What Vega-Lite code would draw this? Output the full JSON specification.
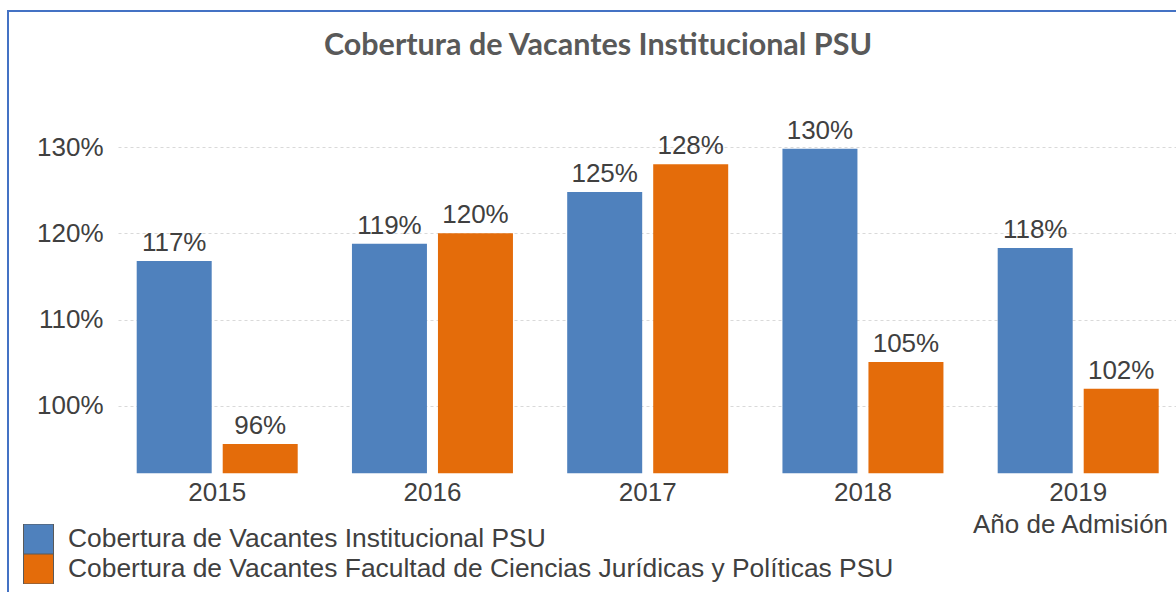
{
  "$schema": "https://vega.github.io/schema/vega-lite/v6.json",
  "width": 1180,
  "height": 600,
  "autosize": {"type": "none"},
  "padding": {"left": 8, "top": 11, "right": 0, "bottom": 0},
  "background": "white",
  "config": {
    "view": {"stroke": "#4472C4", "strokeWidth": 2},
    "font": "Liberation Sans"
  },
  "title": {
    "text": "Cobertura de Vacantes Institucional PSU",
    "font": "Lato",
    "fontSize": 30.5,
    "fontWeight": "bold",
    "color": "#595959",
    "anchor": "middle",
    "frame": "group",
    "offset": -50
  },
  "data": {
    "values": [
      {"year": "2015", "serie": "Cobertura de Vacantes Institucional PSU", "value": 1.168},
      {"year": "2015", "serie": "Cobertura de Vacantes Facultad de Ciencias Jurídicas y Políticas PSU", "value": 0.956},
      {"year": "2016", "serie": "Cobertura de Vacantes Institucional PSU", "value": 1.188},
      {"year": "2016", "serie": "Cobertura de Vacantes Facultad de Ciencias Jurídicas y Políticas PSU", "value": 1.2},
      {"year": "2017", "serie": "Cobertura de Vacantes Institucional PSU", "value": 1.248},
      {"year": "2017", "serie": "Cobertura de Vacantes Facultad de Ciencias Jurídicas y Políticas PSU", "value": 1.28},
      {"year": "2018", "serie": "Cobertura de Vacantes Institucional PSU", "value": 1.298},
      {"year": "2018", "serie": "Cobertura de Vacantes Facultad de Ciencias Jurídicas y Políticas PSU", "value": 1.051},
      {"year": "2019", "serie": "Cobertura de Vacantes Institucional PSU", "value": 1.183},
      {"year": "2019", "serie": "Cobertura de Vacantes Facultad de Ciencias Jurídicas y Políticas PSU", "value": 1.02}
    ]
  },
  "encoding": {
    "x": {
      "field": "year",
      "type": "nominal",
      "scale": {"range": [110, 1169.4], "paddingInner": 0.252, "paddingOuter": 0.0869},
      "axis": {
        "orient": "bottom",
        "offset": -138,
        "domain": false,
        "ticks": false,
        "tickSize": 0,
        "grid": false,
        "labelAngle": 0,
        "labelPadding": 6,
        "labelFontSize": 26,
        "labelColor": "#404040",
        "title": "Año de Admisión",
        "titleFontSize": 26,
        "titleFontWeight": "normal",
        "titleColor": "#404040",
        "titleX": 1062,
        "titleY": 59,
        "titleBaseline": "alphabetic",
        "titleAlign": "center"
      }
    },
    "xOffset": {
      "field": "serie",
      "type": "nominal",
      "sort": ["Cobertura de Vacantes Institucional PSU", "Cobertura de Vacantes Facultad de Ciencias Jurídicas y Políticas PSU"],
      "scale": {"paddingInner": 0.128, "paddingOuter": 0}
    },
    "y": {
      "field": "value",
      "type": "quantitative",
      "scale": {"domain": [0.922, 1.34], "range": [462.3, 101.5], "zero": false, "nice": false},
      "axis": {
        "values": [1, 1.1, 1.2, 1.3],
        "format": ".0%",
        "offset": -110,
        "domain": false,
        "ticks": false,
        "tickSize": 0,
        "labelPadding": 15,
        "labelFontSize": 26,
        "labelColor": "#404040",
        "title": null,
        "grid": true,
        "gridColor": "#d9d9d9",
        "gridDash": [3, 3]
      }
    }
  },
  "layer": [
    {
      "mark": {"type": "bar"},
      "encoding": {
        "y2": {"datum": 0.922},
        "color": {
          "field": "serie",
          "type": "nominal",
          "scale": {
            "domain": ["Cobertura de Vacantes Institucional PSU", "Cobertura de Vacantes Facultad de Ciencias Jurídicas y Políticas PSU"],
            "range": ["#4F81BD", "#E46C0A"]
          },
          "legend": {
            "orient": "none",
            "legendX": 15,
            "legendY": 513,
            "title": null,
            "symbolType": "square",
            "symbolSize": 900,
            "symbolStrokeColor": "#595959",
            "symbolStrokeWidth": 1,
            "symbolOpacity": 1,
            "labelFontSize": 26.4,
            "labelColor": "#404040",
            "labelOffset": 14,
            "labelLimit": 1000,
            "clipHeight": 30,
            "rowPadding": 0,
            "padding": 0
          }
        }
      }
    },
    {
      "mark": {"type": "text", "dy": -10, "baseline": "alphabetic", "fontSize": 26, "color": "#404040"},
      "encoding": {
        "text": {"field": "value", "type": "quantitative", "format": ".0%"}
      }
    }
  ]
}
